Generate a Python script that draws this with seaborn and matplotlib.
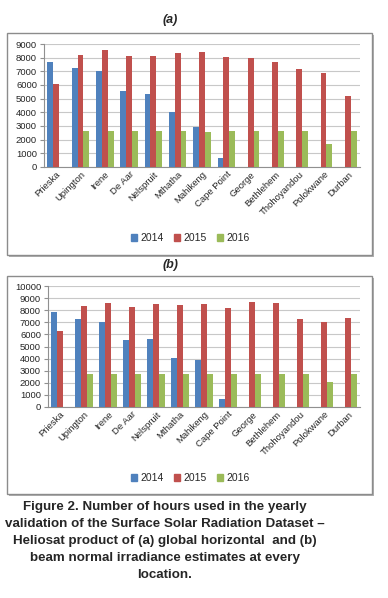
"""
Figure 2 - hours used in yearly validation of SARAH Heliosat product
"""
import pandas as pd
import seaborn as sns
import matplotlib.pyplot as plt
from matplotlib.patches import Rectangle

stations = ["Prieska", "Upington", "Irene", "De Aar", "Nelspruit", "Mthatha",
            "Mahikeng", "Cape Point", "George", "Bethlehem", "Thohoyandou",
            "Polokwane", "Durban"]
years = ["2014", "2015", "2016"]

# (a) global horizontal
ghi_2014 = [7700, 7250, 7000, 5550, 5350, 4000, 2950, 680, 0, 0, 0, 0, 0]
ghi_2015 = [6050, 8200, 8550, 8100, 8150, 8350, 8400, 8050, 8000, 7650, 7150, 6900, 5200]
ghi_2016 = [0, 2650, 2650, 2650, 2650, 2650, 2550, 2650, 2650, 2650, 2650, 1700, 2650]

# (b) beam normal
bni_2014 = [7850, 7300, 7050, 5500, 5600, 4050, 3850, 700, 0, 0, 0, 0, 0]
bni_2015 = [6250, 8350, 8600, 8250, 8550, 8450, 8550, 8200, 8650, 8600, 7300, 7000, 7350]
bni_2016 = [0, 2700, 2750, 2700, 2750, 2700, 2700, 2700, 2700, 2700, 2700, 2050, 2750]

colors = ["#4F81BD", "#C0504D", "#9BBB59"]

sns.set_style("white")
plt.rcParams["font.family"] = ["Liberation Sans", "DejaVu Sans"]

W, H = 388, 598
fig = plt.figure(figsize=(W / 100, H / 100), dpi=100)


def frac(x0, y0, x1, y1):
    return [x0 / W, 1 - y1 / H, (x1 - x0) / W, (y1 - y0) / H]


def panel(vals, ax_px, box_px, label, title_y, ymax, legend_y):
    # outer Excel-like frame with a soft shadow
    x0, y0, x1, y1 = box_px
    fig.patches.append(Rectangle((x0 / W + 0.004, 1 - y1 / H - 0.003),
                                 (x1 - x0) / W, (y1 - y0) / H,
                                 transform=fig.transFigure, facecolor="#B0B0B0",
                                 edgecolor="none", zorder=0))
    fig.patches.append(Rectangle((x0 / W, 1 - y1 / H), (x1 - x0) / W, (y1 - y0) / H,
                                 transform=fig.transFigure, facecolor="white",
                                 edgecolor="#8C8C8C", lw=1.0, zorder=0.5))
    fig.text(170 / W, 1 - title_y / H, label, ha="center",
             va="center", fontsize=9, fontweight="bold", style="italic")

    df = pd.DataFrame({
        "station": stations * 3,
        "year": [y for y in years for _ in stations],
        "hours": vals[0] + vals[1] + vals[2],
    })
    ax = fig.add_axes(frac(*ax_px))
    ax.set_zorder(2)
    ax.set_facecolor("none")
    sns.barplot(data=df, x="station", y="hours", hue="year", palette=colors,
                width=0.72, gap=0.0, saturation=1, linewidth=0, ax=ax,
                legend=False, zorder=3)
    ax.set_ylim(0, ymax)
    ax.set_yticks(range(0, ymax + 1, 1000))
    ax.yaxis.grid(True, color="#C8C8C8", lw=0.8, zorder=0)
    ax.set_axisbelow(True)
    ax.set_xlabel("")
    ax.set_ylabel("")
    for s in ["top", "right"]:
        ax.spines[s].set_visible(False)
    for s in ["left", "bottom"]:
        ax.spines[s].set_color("#909090")
        ax.spines[s].set_linewidth(0.8)
    ax.tick_params(axis="y", labelsize=6.8, length=3, color="#909090", pad=2, left=True)
    ax.tick_params(axis="x", labelsize=6.8, length=0, pad=2)
    ax.set_xticks(range(len(stations)))
    ax.set_xticklabels(stations, rotation=45, ha="right", rotation_mode="anchor")
    ax.set_xlim(-0.5, len(stations) - 0.5)

    handles = [Rectangle((0, 0), 1, 1, color=c) for c in colors]
    leg = fig.legend(handles, years, loc="center", bbox_to_anchor=(190 / W, 1 - legend_y / H),
                     ncol=3, frameon=False, fontsize=7.5, handlelength=0.6,
                     handleheight=0.6, handletextpad=0.3, columnspacing=1.0)
    leg.set_zorder(3)
    return ax


panel([ghi_2014, ghi_2015, ghi_2016], (44, 44, 360, 167), (7, 33, 372, 255),
      "(a)", 20, 9000, 238)
panel([bni_2014, bni_2015, bni_2016], (48, 286, 360, 407), (7, 276, 372, 494),
      "(b)", 265, 10000, 478)

caption = ("Figure 2. Number of hours used in the yearly\n"
           "validation of the Surface Solar Radiation Dataset \u2013\n"
           "Heliosat product of (a) global horizontal  and (b)\n"
           "beam normal irradiance estimates at every\n"
           "location.")
fig.text(165 / W, 1 - 541 / H, caption, ha="center", va="center",
         fontsize=9.6, fontweight="bold", linespacing=1.55)

fig.savefig("out.png", dpi=100)
